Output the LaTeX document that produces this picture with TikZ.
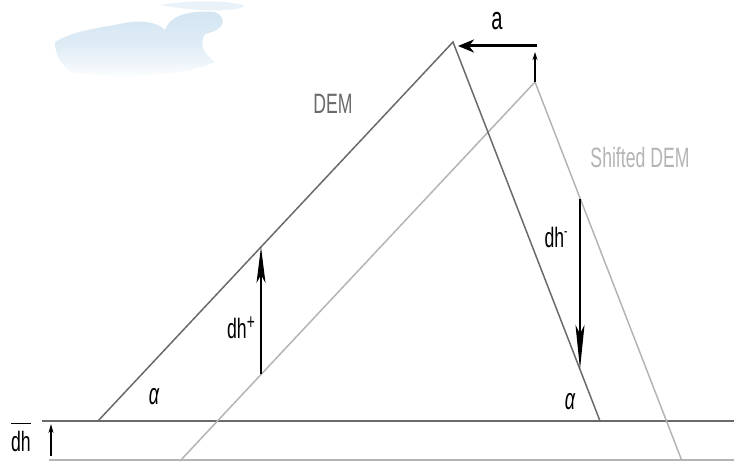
\documentclass[tikz,border=0pt]{standalone}
\usepackage{fontspec}
\setmainfont{Liberation Sans}
\usetikzlibrary{arrows.meta}
\definecolor{demc}{HTML}{6A6A6A}
\definecolor{shc}{HTML}{B4B4B4}
\definecolor{cloudc}{HTML}{D3E5F2}
\tikzset{
  dem/.style={draw=demc, line width=1.5pt},
  shifted/.style={draw=shc, line width=1.5pt},
  arr/.style={draw=black, line width=1.1pt},
  lbl/.style={font=\fontsize{28}{28}\selectfont, xscale=0.63, inner sep=0pt},
  greek/.style={font=\fontsize{30}{30}\selectfont\itshape, xscale=0.6, inner sep=0pt},
}
\begin{document}
\begin{tikzpicture}[x=1pt,y=-1pt]
\useasboundingbox (0,0) rectangle (734,462);
% faint cloud
\begin{scope}
\clip (55,42) .. controls (75,30) and (100,28) .. (130,22)
  .. controls (150,20) and (160,25) .. (165,30) .. controls (170,15) and (190,10) .. (215,12)
  .. controls (228,18) and (225,30) .. (205,34) .. controls (198,45) and (205,55) .. (215,62)
  .. controls (190,75) and (120,80) .. (70,72) .. controls (60,62) and (55,55) .. (55,42) -- cycle;
\shade[top color=cloudc, bottom color=white, middle color=cloudc!75] (50,8) rectangle (230,80);
\end{scope}
\fill[cloudc, opacity=0.5] (160,5) .. controls (190,0) and (230,0) .. (245,6) .. controls (235,12) and (200,12) .. (160,5) -- cycle;
% coordinates
\coordinate (dl) at (98,421);
\coordinate (dt) at (453,42);
\coordinate (dr) at (600,421);
\coordinate (st) at (535,82);
\coordinate (sl) at (180,461);
\coordinate (sr) at (682,461);
\coordinate (h1a) at (42,421);
\coordinate (h1b) at (734,421);
\coordinate (h2a) at (49,460);
\coordinate (h2b) at (734,460);
% baselines
\draw[shc, line width=2.2pt] (h2a) -- (h2b);
\draw[demc, line width=2.8pt] (h1a) -- (h1b);
% shifted DEM
\draw[shifted] (sl) -- (st) -- (sr);
% DEM
\draw[dem] (dl) -- (dt) -- (dr);
% a arrow
\coordinate (a0) at (537,46);
\coordinate (a1) at (458,46);
\draw[arr, line width=3pt, -{Stealth[length=16pt,width=13pt,inset=5pt]}] (a0) -- (a1);
\coordinate (u0) at (535,82);
\coordinate (u1) at (535,52);
\draw[arr, line width=1.3pt, -{Stealth[length=8pt,width=5pt]}] (u0) -- (u1);
\node[lbl, font=\fontsize{32}{32}\selectfont] (la) at (497,21) {a};
% dh+
\coordinate (p0) at (261,374);
\coordinate (p1) at (261,247);
\draw[arr, -{Stealth[length=36pt,width=9pt,inset=8pt]}] (p0) -- (p1);
\node[lbl] (lp) at (241,328) {dh\raisebox{9pt}{\fontsize{22}{22}\selectfont +}};
% dh-
\coordinate (m0) at (580,199);
\coordinate (m1) at (580,369);
\draw[arr, -{Stealth[length=44pt,width=9pt,inset=9pt]}] (m0) -- (m1);
\node[lbl] (lm) at (556,237) {dh\raisebox{11pt}{\fontsize{16}{16}\selectfont -}};
% labels
\node[lbl, text=demc] (ldem) at (333,104) {DEM};
\node[lbl, text=shc] (lsh) at (640,157) {Shifted DEM};
\node[greek] (al1) at (154,397) {α};
\node[greek] (al2) at (570,402) {α};
\node[lbl] (ldh) at (21,441) {dh};
\draw[black, line width=1.6pt] ([yshift=7pt]ldh.north west) -- ([yshift=7pt]ldh.north east);
\coordinate (b0) at (51,456);
\coordinate (b1) at (51,424);
\draw[arr, line width=1.3pt, -{Stealth[length=9pt,width=5pt]}] (b0) -- (b1);
\end{tikzpicture}
\end{document}
